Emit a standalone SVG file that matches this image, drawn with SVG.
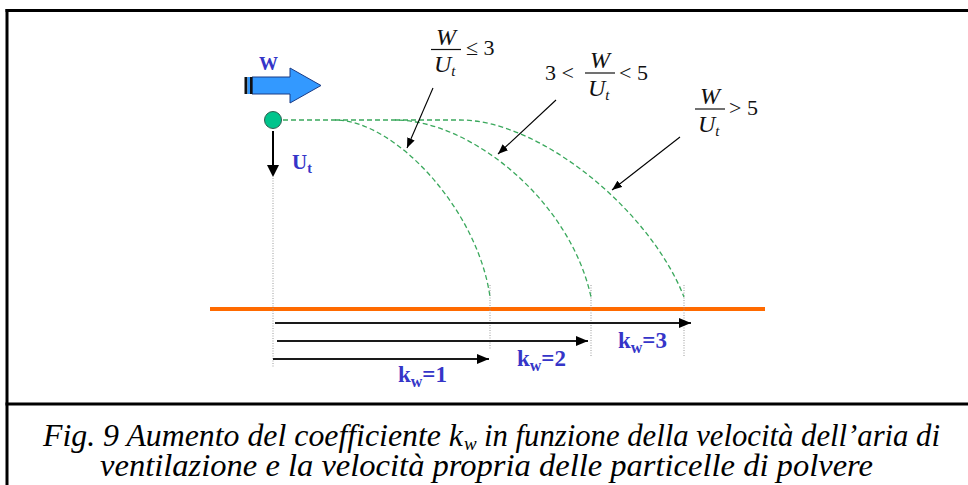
<svg xmlns="http://www.w3.org/2000/svg" width="968" height="485" viewBox="0 0 968 485">
<style>
.frame{stroke:#000;stroke-width:3;fill:none}
.traj{fill:none;stroke:#3aa85c;stroke-width:1.3;stroke-dasharray:5 3}
.guide{fill:none;stroke:#9a9a9a;stroke-width:1;stroke-dasharray:1 1.5}
.call{stroke:#000;stroke-width:1.1;fill:none;marker-end:url(#ah)}
.kar{stroke:#1a1a1a;stroke-width:2;fill:none;marker-end:url(#kh)}
.lbl{font-weight:bold;fill:#3535c8}
.math{fill:#111}
.it{font-style:italic}
.cap{font-style:italic;font-size:31px;fill:#000}
.capsub{font-style:italic;font-size:19px;fill:#000}
</style>
<defs>
<marker id="ah" viewBox="0 0 10 8" refX="10" refY="4" markerWidth="10" markerHeight="8" markerUnits="userSpaceOnUse" orient="auto"><path d="M0,0 L10,4 L0,8 z" fill="#000"/></marker>
<marker id="kh" viewBox="0 0 12 10" refX="12" refY="5" markerWidth="12" markerHeight="10" markerUnits="userSpaceOnUse" orient="auto"><path d="M0,0 L12,5 L0,10 z" fill="#000"/></marker>
</defs>
<rect width="968" height="485" fill="#fff"/>
<g id="frame">
<line class="frame" x1="5.5" y1="10.5" x2="968" y2="10.5"/>
<line class="frame" x1="7" y1="9" x2="7" y2="485"/>
<line class="frame" x1="5.5" y1="404" x2="968" y2="404"/>
</g>
<g id="ground"><line x1="210" y1="309" x2="765" y2="309" stroke="#ff6a00" stroke-width="4"/></g>
<g id="guides">
<line class="guide" x1="273" y1="178" x2="273" y2="367"/>
<line class="guide" x1="490" y1="285" x2="490" y2="349"/>
<line class="guide" x1="591" y1="285" x2="591" y2="357"/>
<line class="guide" x1="684" y1="285" x2="684" y2="357"/>
</g>
<g id="trajectories">
<path class="traj" d="M283,120 H335 C395,120 478,210 490,297"/>
<path class="traj" d="M335,120 H395 C470,120 570,200 591,297"/>
<path class="traj" d="M395,120 H460 C540,120 650,210 684,297"/>
</g>
<g font-family="'Liberation Serif', 'DejaVu Serif', serif">
<g id="wind">
<text class="lbl" x="259" y="70" font-size="19">W</text>
<path d="M252,77 H290 V68 L321,85.5 L290,103 V94 H252 Z" fill="#3399ff" stroke="#1b3c86" stroke-width="1"/>
<rect x="244.5" y="77" width="3" height="17" fill="#111"/>
<rect x="247.5" y="77" width="2.5" height="17" fill="#3399ff"/>
<rect x="250" y="77" width="2.5" height="17" fill="#111"/>
</g>
<g id="particle">
<circle cx="273" cy="120" r="8.5" fill="#00c48c" stroke="#2f5f4f" stroke-width="1"/>
<line x1="273" y1="131" x2="273" y2="166" stroke="#000" stroke-width="2"/>
<path d="M267,165 L279,165 L273,177 Z" fill="#000"/>
<text class="lbl" x="292" y="169" font-size="21">U<tspan font-size="14" dy="4">t</tspan></text>
</g>
<g id="label1">
<text class="math it" x="446" y="45" font-size="24" text-anchor="middle">W</text>
<line x1="431" y1="49.5" x2="461" y2="49.5" stroke="#111" stroke-width="1.2"/>
<text class="math it" x="434" y="72" font-size="24">U<tspan font-size="15" dy="4">t</tspan></text>
<text class="math" x="466" y="55" font-size="22">≤ 3</text>
</g>
<g id="label2">
<text class="math it" x="600" y="68" font-size="24" text-anchor="middle">W</text>
<text class="math" x="545" y="80" font-size="22">3 &lt;</text>
<line x1="585" y1="73" x2="615" y2="73" stroke="#111" stroke-width="1.2"/>
<text class="math it" x="588" y="96" font-size="24">U<tspan font-size="15" dy="4">t</tspan></text>
<text class="math" x="619" y="80" font-size="22">&lt; 5</text>
</g>
<g id="label3">
<text class="math it" x="710" y="104" font-size="24" text-anchor="middle">W</text>
<line x1="695" y1="109" x2="725" y2="109" stroke="#111" stroke-width="1.2"/>
<text class="math it" x="698" y="132" font-size="24">U<tspan font-size="15" dy="4">t</tspan></text>
<text class="math" x="729" y="115" font-size="22">&gt; 5</text>
</g>
<g id="klabels">
<text class="lbl" x="398" y="382" font-size="23">k<tspan font-size="16" dy="5">w</tspan><tspan dy="-5">=1</tspan></text>
<text class="lbl" x="517" y="366" font-size="23">k<tspan font-size="16" dy="5">w</tspan><tspan dy="-5">=2</tspan></text>
<text class="lbl" x="618" y="348" font-size="23">k<tspan font-size="16" dy="5">w</tspan><tspan dy="-5">=3</tspan></text>
</g>
<g id="caption">
<text class="cap" x="43" y="446" textLength="420" lengthAdjust="spacingAndGlyphs">Fig. 9 Aumento del coefficiente k</text>
<text class="capsub" x="464" y="450">w</text>
<text class="cap" x="484" y="446" textLength="456" lengthAdjust="spacingAndGlyphs">in funzione della velocità dell’aria di</text>
<text class="cap" x="100" y="476" textLength="773" lengthAdjust="spacingAndGlyphs">ventilazione e la velocità propria delle particelle di polvere</text>
</g>
</g>
<g id="connectors">
<line class="call" x1="433" y1="88" x2="407" y2="148"/>
<line class="call" x1="556" y1="100" x2="498" y2="154"/>
<line class="call" x1="680" y1="137" x2="612" y2="190"/>
<line class="kar" x1="275" y1="323" x2="691" y2="323"/>
<line class="kar" x1="277" y1="341" x2="588" y2="341"/>
<line class="kar" x1="273" y1="359" x2="489" y2="359"/>
</g>
</svg>
